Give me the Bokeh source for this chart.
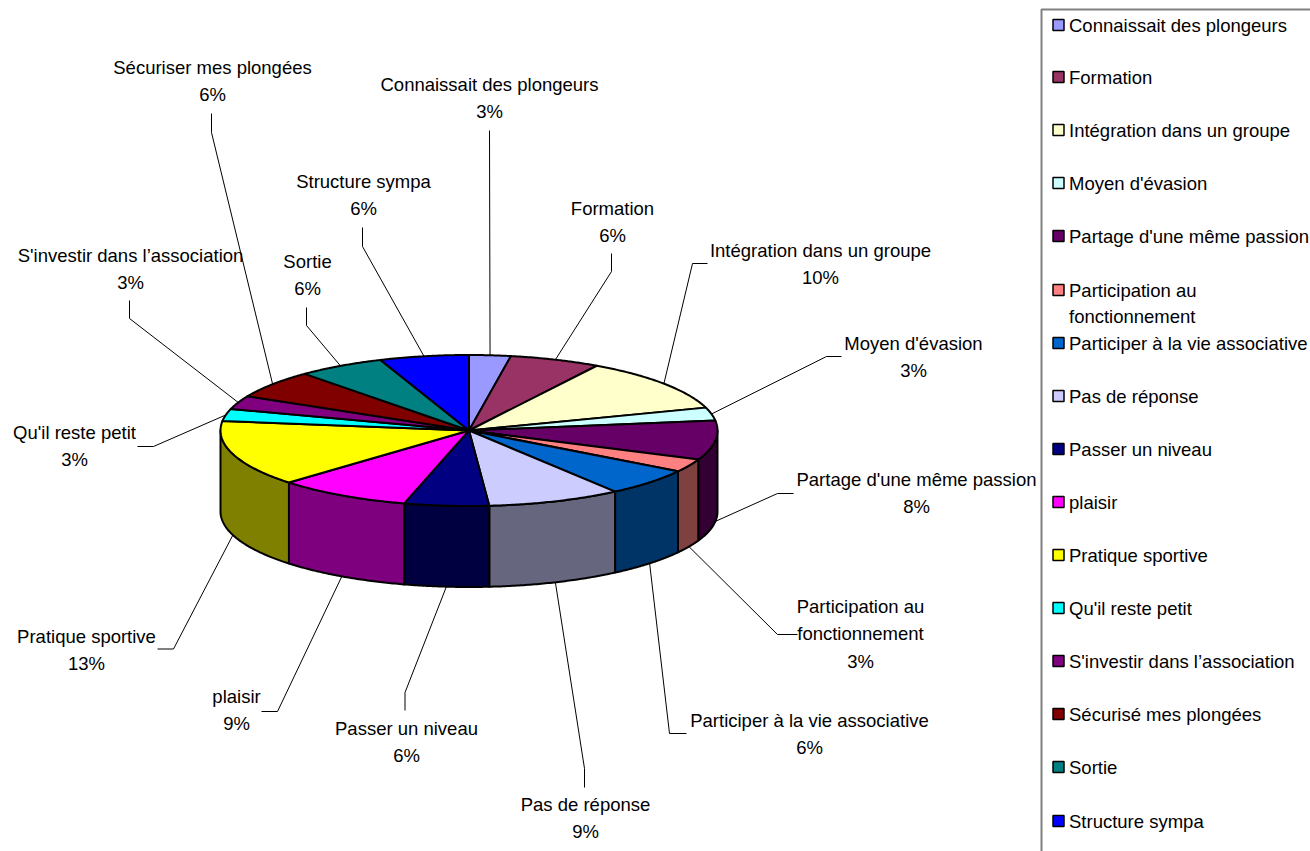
import numpy as np
from bokeh.plotting import figure
from bokeh.models import Range1d, ColumnDataSource
from bokeh.core.properties import value
from bokeh.embed import file_html
from bokeh.resources import INLINE

# ---- data ----
legend_names = ["Connaissait des plongeurs", "Formation", "Intégration dans un groupe", "Moyen d'évasion",
                "Partage d'une même passion", "Participation au\nfonctionnement", "Participer à la vie associative",
                "Pas de réponse", "Passer un niveau", "plaisir", "Pratique sportive", "Qu'il reste petit",
                "S'investir dans l’association", "Sécurisé mes plongées", "Sortie", "Structure sympa"]
label_names = ["Connaissait des plongeurs", "Formation", "Intégration dans un groupe", "Moyen d'évasion",
               "Partage d'une même passion", "Participation au\nfonctionnement", "Participer à la vie associative",
               "Pas de réponse", "Passer un niveau", "plaisir", "Pratique sportive", "Qu'il reste petit",
               "S'investir dans l’association", "Sécuriser mes plongées", "Sortie", "Structure sympa"]
percent_labels = [3, 6, 10, 3, 8, 3, 6, 9, 6, 9, 13, 3, 3, 6, 6, 6]
# share of the ring each slice takes as drawn (the 3D view distorts the printed percentages)
drawn_share = [2.7, 5.9, 11.5, 2.8, 8.4, 2.8, 5.9, 8.7, 5.5, 8.7, 14.1, 2.6, 2.9, 6.0, 5.7, 5.8]
colors = ["#9999FF", "#993366", "#FFFFCC", "#CCFFFF", "#660066", "#FF8080", "#0066CC", "#CCCCFF",
          "#000080", "#FF00FF", "#FFFF00", "#00FFFF", "#800080", "#800000", "#008080", "#0000FF"]

# ---- layout (picture pixels) ----
CX, CY, RX, RY, DEPTH = 468.5, 430.0, 248.5, 75.5, 81.0
LABEL_X = [489, 612, 820, 913, 916, 860, 809, 585, 406, 236, 86, 74, 130, 212, 307, 363]
LABEL_Y = [83.5, 207.5, 249.5, 342.5, 478.5, 605.5, 719.5, 803.5, 727.5, 695.5, 635.5, 431.5, 254.5, 66.5, 260.5, 180.5]
ELBOWS = [[(489, 130)], [(611, 253), (611, 271)], [(707, 263), (692, 263)], [(841, 356), (826, 356)],
          [(793, 493), (777, 493)], [(797, 634), (777, 634)], [(686, 733), (669, 733)], [(584, 787), (584, 768)],
          [(404.5, 710), (404.5, 692)], [(261, 711), (277, 711)], [(157, 648.5), (173, 648.5)], [(137, 446), (153, 446)],
          [(129, 300), (129, 318)], [(211, 113), (211, 132)], [(306, 307), (306, 325)], [(362, 227), (362, 246)]]
LEGEND_Y = [24.5, 76.5, 129.5, 182.5, 235.5, 289.5, 342.5, 395.5, 448.5, 501.5, 554.5, 607.5, 660.5, 713.5, 766.5, 820.5]
FONT = value("Liberation Sans")
FS = "18.5px"
LH = 27.5


def rim(deg):
    t = np.radians(deg)
    return CX + RX * np.sin(t), CY - RY * np.cos(t)


def darker(c):
    return "#%02X%02X%02X" % tuple(int(c[i:i + 2], 16) // 2 for i in (1, 3, 5))


p = figure(width=1310, height=851, x_range=Range1d(0, 1310), y_range=Range1d(851, 0),
           output_backend="svg", toolbar_location=None, min_border=0, outline_line_color=None)
p.xaxis.visible = False
p.yaxis.visible = False
p.grid.visible = False

scale = 360.0 / sum(drawn_share)
edges = np.concatenate([[0], np.cumsum(drawn_share)]) * scale

# leaders go under the pie
lx, ly = [], []
for i, el in enumerate(ELBOWS):
    mid = (edges[i] + edges[i + 1]) / 2
    x0, y0 = rim(mid)
    if 90 <= mid <= 270:
        y0 += DEPTH
    lx.append([e[0] for e in el] + [float(x0)])
    ly.append([e[1] for e in el] + [float(y0)])
p.multi_line(lx, ly, line_color="#000000", line_width=1)

# side wall
sx, sy, sc = [], [], []
for i, c in enumerate(colors):
    a, b = max(edges[i], 90), min(edges[i + 1], 270)
    if b <= a:
        continue
    th = np.linspace(a, b, 60)
    x, y = rim(th)
    sx.append(list(x) + list(x[::-1]))
    sy.append(list(y) + list((y + DEPTH)[::-1]))
    sc.append(darker(c))
p.patches(sx, sy, fill_color=sc, line_color="#000000", line_width=2, line_join="round")

# top face
tx, ty = [], []
for i in range(len(colors)):
    th = np.linspace(edges[i], edges[i + 1], 60)
    x, y = rim(th)
    tx.append([CX] + list(x))
    ty.append([CY] + list(y))
p.patches(tx, ty, fill_color=colors, line_color="#000000", line_width=2, line_join="round")

# data labels
rows = {"x": [], "y": [], "t": []}
for n, pc, x, y in zip(label_names, percent_labels, LABEL_X, LABEL_Y):
    lines = n.split("\n") + [f"{pc}%"]
    for k, s in enumerate(lines):
        rows["x"].append(x)
        rows["y"].append(y + k * LH)
        rows["t"].append(s)
p.text("x", "y", text="t", source=ColumnDataSource(rows), text_font=FONT, text_font_size=FS,
       text_align="center", text_baseline="middle", text_color="#000000")

# legend
p.line([1310, 1041, 1041], [9, 9, 851], line_color="#808080", line_width=2)
p.scatter([1058] * len(colors), LEGEND_Y, marker="square", size=11, fill_color=colors,
          line_color="#000000", line_width=1.5)
rows = {"x": [], "y": [], "t": []}
for n, y in zip(legend_names, LEGEND_Y):
    for k, s in enumerate(n.split("\n")):
        rows["x"].append(1068.5)
        rows["y"].append(y + k * 26)
        rows["t"].append(s)
p.text("x", "y", text="t", source=ColumnDataSource(rows), text_font=FONT, text_font_size=FS,
       text_align="left", text_baseline="middle", text_color="#000000")

open("out.html", "w").write(file_html(p, INLINE))
